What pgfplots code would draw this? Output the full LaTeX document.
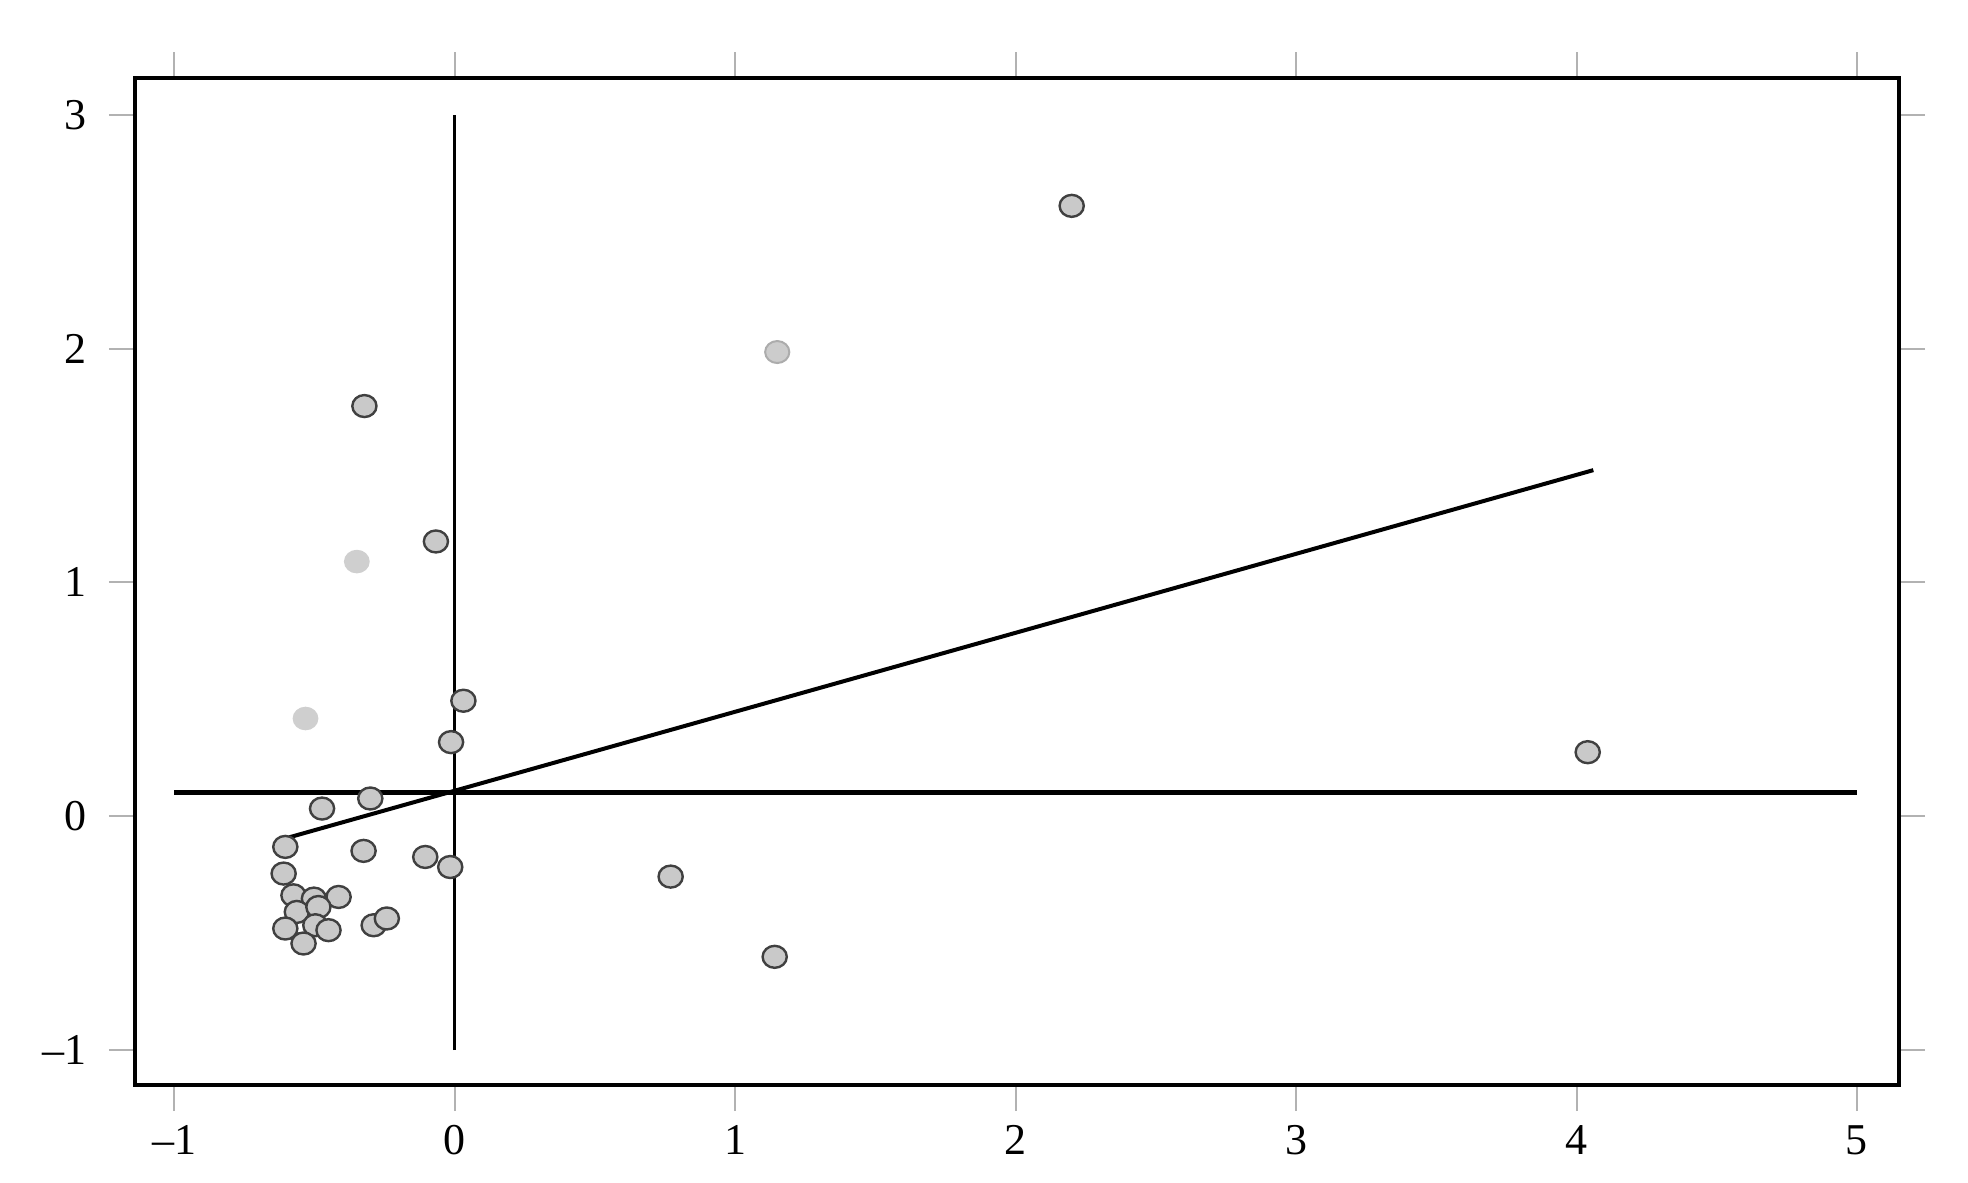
\documentclass[border=0pt]{standalone}
\usepackage{pgfplots}
\pgfplotsset{compat=1.18}
\usepackage{fontspec}
\setmainfont{Liberation Serif}

% dark-rimmed points
\pgfplotstableread{
x y
2.20 2.61
-0.322 1.754
-0.067 1.175
0.031 0.494
-0.013 0.317
4.04 0.274
-0.301 0.076
-0.473 0.033
-0.604 -0.131
-0.325 -0.148
-0.105 -0.174
-0.016 -0.217
-0.610 -0.245
0.770 -0.258
-0.575 -0.338
-0.502 -0.352
-0.414 -0.345
-0.563 -0.409
-0.486 -0.388
-0.497 -0.466
-0.450 -0.487
-0.604 -0.480
-0.539 -0.544
-0.289 -0.466
-0.242 -0.437
1.141 -0.601
}\darkpts

% pale points without rim
\pgfplotstableread{
x y
-0.349 1.089
-0.532 0.418
}\palepts

\begin{document}
\begin{tikzpicture}
\begin{axis}[
  scale only axis,
  width=441pt, height=251.7pt,
  xmin=-1.14, xmax=5.15,
  ymin=-1.15, ymax=3.155,
  xtick={-1,0,...,5}, ytick={-1,0,...,3},
  xticklabels={--1,0,1,2,3,4,5},
  yticklabels={--1,0,1,2,3},
  tick align=outside,
  major tick length=6.5pt,
  tick style={gray!60, line width=0.5pt},
  axis line style={line width=1pt},
  tick label style={font=\fontsize{11}{13}\selectfont},
  yticklabel style={xshift=-2pt},
]
\addplot[black, line width=0.8pt] coordinates {(0,-1) (0,3)};
\addplot[black, line width=1.2pt] coordinates {(-1,0.1) (5,0.1)};
\addplot[black, line width=1pt] coordinates {(-0.59,-0.09) (4.06,1.48)};
\addplot[only marks, mark=*, mark size=2.75pt,
  mark options={xscale=1.1, fill=gray!42, draw=black!75, line width=0.6pt}]
  table {\darkpts};
\addplot[only marks, mark=*, mark size=2.75pt, color=gray!38,
  mark options={xscale=1.1}]
  table {\palepts};
\addplot[only marks, mark=*, mark size=2.75pt,
  mark options={xscale=1.1, fill=gray!40, draw=gray!65, line width=0.5pt}]
  coordinates {(1.15,1.985)};
\end{axis}
\path (-33.75pt,-24.25pt) rectangle (458.25pt,271.3pt);
\end{tikzpicture}
\end{document}
